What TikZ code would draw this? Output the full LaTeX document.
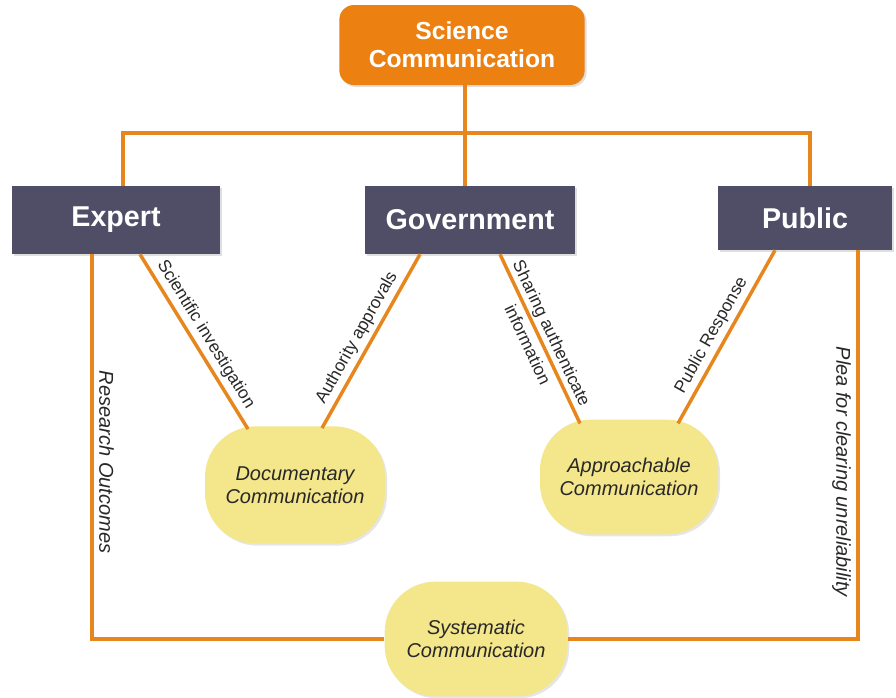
\documentclass[tikz,border=0pt]{standalone}
\usepackage{fontspec}
\setmainfont{Liberation Sans}
\usepackage{tikz}
\usetikzlibrary{positioning, shadows, calc}
\definecolor{scorange}{RGB}{236, 128, 16}
\definecolor{linkorange}{RGB}{232, 134, 30}
\definecolor{slate}{RGB}{80, 77, 103}
\definecolor{paleyellow}{RGB}{244, 230, 138}
\definecolor{inktext}{RGB}{40, 40, 40}

\begin{document}
\begin{tikzpicture}[
    x=0.75pt, y=-0.75pt,
    topbox/.style={rectangle, rounded corners=11pt, fill=scorange, minimum width=184pt, minimum height=60pt, text centered, align=center, font=\fontsize{18.5}{21}\selectfont\bfseries, text=white, drop shadow={shadow xshift=1.5pt, shadow yshift=-1.5pt, opacity=0.25}},
    actor/.style={rectangle, fill=slate, minimum height=51pt, text centered, font=\fontsize{21.5}{24}\selectfont\bfseries, text=white, drop shadow={shadow xshift=1.5pt, shadow yshift=-1.5pt, opacity=0.25}},
    commbox/.style={rectangle, rounded corners=38pt, fill=paleyellow, minimum width=135pt, minimum height=88pt, align=center, font=\fontsize{15}{17}\selectfont\itshape, text=inktext, drop shadow={shadow xshift=1.5pt, shadow yshift=-1.5pt, opacity=0.2}},
    link/.style={draw=linkorange, line width=2.6pt},
    label/.style={font=\fontsize{13}{14.5}\selectfont, text=inktext, sloped, inner sep=3pt},
    vlabel/.style={font=\fontsize{15}{17}\selectfont\itshape, text=inktext, sloped, inner sep=4pt}
]
\useasboundingbox (0,0) rectangle (896,697);

% nodes
\node[topbox] (sci) at (462,45) {Science\\Communication};
\node[actor, minimum width=156pt] (expert) at (116,220) {Expert};
\node[actor, minimum width=157.5pt] (gov) at (470,220) {Government};
\node[actor, minimum width=130.5pt, minimum height=48pt] (public) at (805,218) {Public};
\node[commbox] (docu) at (295,485) {Documentary\\Communication};
\node[commbox, minimum width=133.5pt, minimum height=86pt] (appr) at (629,477) {Approachable\\Communication};
\node[commbox, minimum width=137pt, minimum height=86pt] (syst) at (476,639) {Systematic\\Communication};

% tree bus from the top box
\coordinate (bus) at (465,133);
\coordinate (busL) at (123,133);
\coordinate (busR) at (810,133);
\draw[link] (sci.south -| bus) -- (gov.north -| bus);
\draw[link] (expert.north -| busL) -- (busL) -- (busR) -- (public.north -| busR);

% diagonal links
\draw[link] ($(expert.south)+(24,0)$) -- node[label, above, pos=0.5] {Scientific investigation} ($(docu.north)+(-47,3)$);
\draw[link] ($(gov.south)+(-50,0)$) -- node[label, above, pos=0.52] {Authority approvals} ($(docu.north)+(27,2)$);
\draw[link] ($(gov.south)+(30,0)$) -- node[label, align=center, pos=0.5, inner sep=0pt, font=\fontsize{13}{20}\selectfont] {Sharing authenticate\\information} ($(appr.north)+(-49,4)$);
\draw[link] ($(public.south)+(-30,0)$) -- node[label, above, pos=0.53] {Public Response} ($(appr.north)+(49,4)$);

% outer loop to the bottom
\coordinate (resL) at (92,639);
\coordinate (pleaR) at (858,639);
\draw[link] (expert.south -| resL) -- node[vlabel, above, pos=0.54] {Research Outcomes} (resL) -- (syst);
\draw[link] (public.south -| pleaR) -- node[vlabel, below, pos=0.57] {Plea for clearing unreliability} (pleaR) -- (syst);
\end{tikzpicture}
\end{document}
